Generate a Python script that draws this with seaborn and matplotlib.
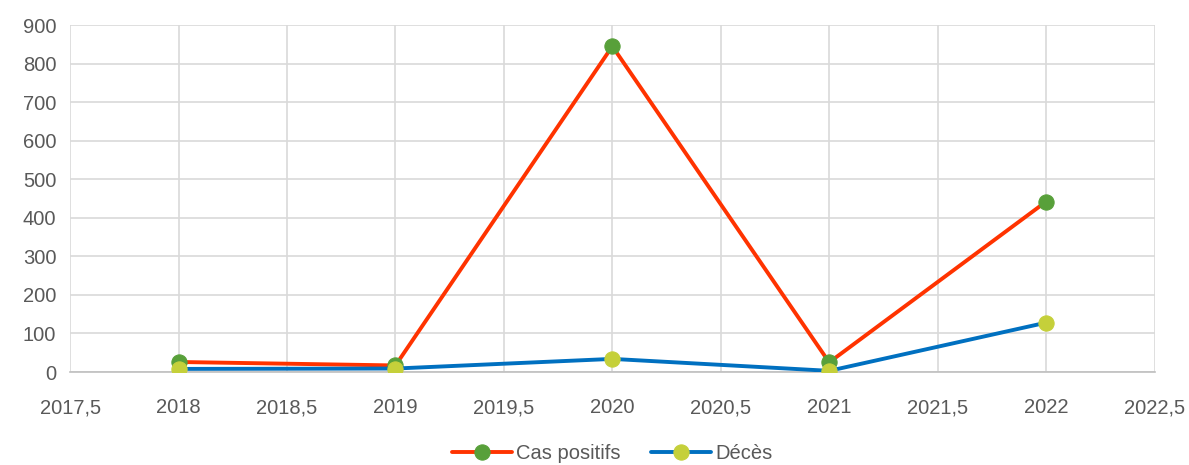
import numpy as np
import pandas as pd
import matplotlib
matplotlib.use("Agg")
import matplotlib.pyplot as plt
import seaborn as sns
from matplotlib.ticker import FuncFormatter, MultipleLocator

years = [2018, 2019, 2020, 2021, 2022]
cas_positifs = [26, 17, 845, 25, 442]
deces = [8, 9, 34, 3, 128]

df = pd.DataFrame({"Année": years, "Cas positifs": cas_positifs, "Décès": deces})

sns.set_style("white")
plt.rcParams['font.family'] = ['Liberation Sans', 'DejaVu Sans']

fig = plt.figure(figsize=(11.89, 4.65), dpi=100)
ax = fig.add_axes([0.059, 0.2, 0.912, 0.746])

sns.lineplot(data=df, x="Année", y="Cas positifs", ax=ax, color="#FF3300", linewidth=2.8,
             marker="o", markersize=11, markerfacecolor="#58A03A", markeredgecolor="#58A03A",
             label="Cas positifs", zorder=3)
sns.lineplot(data=df, x="Année", y="Décès", ax=ax, color="#0070C0", linewidth=2.8,
             marker="o", markersize=11, markerfacecolor="#C5D03A", markeredgecolor="#C5D03A",
             label="Décès", zorder=4)

ax.set_xlim(2017.5, 2022.5)
ax.set_ylim(0, 900)
ax.xaxis.set_major_locator(MultipleLocator(0.5))
ax.yaxis.set_major_locator(MultipleLocator(100))
ax.xaxis.set_major_formatter(FuncFormatter(lambda v, p: (f"{v:g}").replace(".", ",")))
ax.grid(True, color="#D9D9D9", linewidth=1.2)
ax.set_axisbelow(True)
for s in ["top", "right", "left"]:
    ax.spines[s].set_visible(False)
ax.spines["bottom"].set_color("#BFBFBF")
ax.spines["bottom"].set_linewidth(1.2)
ax.tick_params(axis="both", length=0, labelsize=14.5, labelcolor="#595959")
ax.tick_params(axis="x", pad=19)
ax.tick_params(axis="y", pad=10)
ax.set_xlabel("")
ax.set_ylabel("")

ax.legend(loc="upper center", bbox_to_anchor=(0.5, -0.185), ncol=2, frameon=False,
          fontsize=14.5, labelcolor="#595959", handlelength=3, columnspacing=1.5,
          handletextpad=0.2, borderaxespad=0)

fig.savefig("out.png", dpi=100)
